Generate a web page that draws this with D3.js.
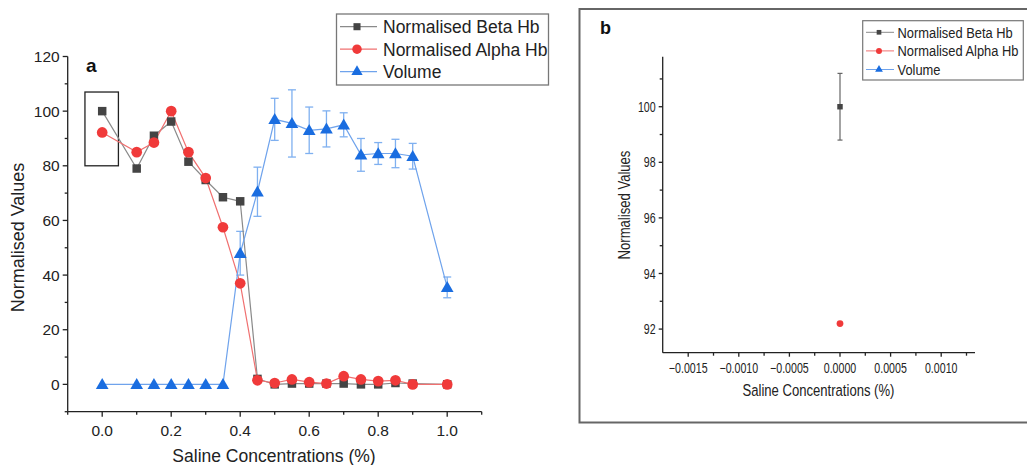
<!DOCTYPE html>
<html><head><meta charset="utf-8">
<script src="https://cdn.jsdelivr.net/npm/d3@7"></script>
<style>body{margin:0;background:#fff}svg{display:block}</style>
</head><body>
<svg id="c" width="1027" height="465"></svg>
<script>
const conc = [0, 0.1, 0.15, 0.2, 0.25, 0.3, 0.35, 0.4, 0.45, 0.5, 0.55, 0.6, 0.65, 0.7, 0.75, 0.8, 0.85, 0.9, 1.0];
const betaHb = [100, 79, 91, 96.2, 81.5, 74.8, 68.5, 67, 2, 0, 0.3, 0.3, 0.3, 0.3, 0, 0, 0.5, 0.3, 0];
const alphaHb = [92.2, 85, 88.5, 100, 85, 75.5, 57.5, 37, 1.5, 0.5, 1.8, 0.8, 0.3, 3, 1.8, 1.2, 1.5, 0, 0];
const volume = [0, 0, 0, 0, 0, 0, 0, 48, 70.5, 97, 95.5, 93, 93.5, 95, 84, 84.5, 84.5, 83.5, 35.5];
const volumeErr = [0, 0, 0, 0, 0, 0, 0, 8, 9, 7.7, 12.3, 8.5, 6.6, 4.4, 6, 4, 5.2, 4.7, 3.8];
const seriesNames = ["Normalised Beta Hb", "Normalised Alpha Hb", "Volume"];
const xTicksA = [0, 0.2, 0.4, 0.6, 0.8, 1.0];
const yTicksA = [0, 20, 40, 60, 80, 100, 120];
// panel b: zoom on x = 0
const concB = [0];
const betaB = [100];
const betaBErr = [1.2];
const alphaB = [92.2];
const xTicksB = [-0.0015, -0.0010, -0.0005, 0, 0.0005, 0.0010];
const yTicksB = [92, 94, 96, 98, 100];

const svg = d3.select("#c");
const FONT = "'Liberation Sans', Arial, sans-serif";
const cBeta = "#444444", cBetaL = "#8a8a8a";
const cAlpha = "#f03a3a", cAlphaL = "#f07070";
const cVol = "#1a6de0", cVolL = "#6fa3ec", cVolE = "#7fb0f0";

// text with optional horizontal condensation (sx) and rotation
function txt(g, x, y, s, opt) {
  const o = Object.assign({size: 15, anchor: "start", sx: 1, rot: 0, weight: "normal", dy: null}, opt);
  const t = g.append("text").attr("transform", `translate(${x},${y}) rotate(${o.rot}) scale(${o.sx},1)`)
    .attr("text-anchor", o.anchor).attr("font-family", FONT).attr("font-size", o.size)
    .attr("font-weight", o.weight).attr("fill", "#222").text(s);
  if (o.dy) t.attr("dy", o.dy);
  return t;
}

function drawAxes(g, x, y, xt, yt, xMinor, yMinor, fmtX, fmtY, fs, sx, tlen, mlen, xlabOff) {
  const [x0, x1] = x.range(), [y0, y1] = y.range();
  const ax = g.append("g").attr("stroke", "#222").attr("stroke-width", 1.3);
  ax.append("line").attr("x1", x0).attr("x2", x1).attr("y1", y0).attr("y2", y0);
  ax.append("line").attr("x1", x0).attr("x2", x0).attr("y1", y0).attr("y2", y1);
  xt.forEach(v => ax.append("line").attr("x1", x(v)).attr("x2", x(v)).attr("y1", y0).attr("y2", y0 + tlen));
  xMinor.forEach(v => ax.append("line").attr("x1", x(v)).attr("x2", x(v)).attr("y1", y0).attr("y2", y0 + mlen));
  yt.forEach(v => ax.append("line").attr("x1", x0).attr("x2", x0 - tlen).attr("y1", y(v)).attr("y2", y(v)));
  yMinor.forEach(v => ax.append("line").attr("x1", x0).attr("x2", x0 - mlen).attr("y1", y(v)).attr("y2", y(v)));
  xt.forEach(v => txt(g, x(v), y0 + xlabOff, fmtX(v), {size: fs, anchor: "middle", sx: sx}));
  yt.forEach(v => txt(g, x0 - tlen - 3, y(v), fmtY(v), {size: fs, anchor: "end", sx: sx, dy: "0.36em"}));
}

// ---------- Panel a ----------
const xA = d3.scaleLinear().domain([-0.1, 1.1]).range([67.7, 481.7]);
const yA = d3.scaleLinear().domain([-10, 120]).range([411.7, 56.5]);
const gA = svg.append("g");
drawAxes(gA, xA, yA, xTicksA, yTicksA,
  d3.range(-0.1, 1.11, 0.1).map(v => +v.toFixed(2)).filter(v => !xTicksA.includes(v)),
  [-10, 10, 30, 50, 70, 90, 110],
  d3.format(".1f"), d3.format("d"), 15.5, 1, 5, 3, 24);

txt(gA, 274, 462, "Saline Concentrations (%)", {size: 17.5, anchor: "middle"});
txt(gA, 24, 237.5, "Normalised Values", {size: 18, anchor: "middle", rot: -90});
txt(gA, 86, 71.5, "a", {size: 19, weight: "bold"}).attr("fill", "#111");

// highlight box
gA.append("rect").attr("x", xA(-0.05)).attr("y", yA(107)).attr("width", xA(0.047) - xA(-0.05))
  .attr("height", yA(80) - yA(107)).attr("fill", "none").attr("stroke", "#222").attr("stroke-width", 1.3);

const line = (xs, ys, data) => d3.line().x(i => xs(conc[i])).y(i => ys(data[i]))(d3.range(data.length));

// volume error bars
const eb = gA.append("g").attr("stroke", cVolE).attr("stroke-width", 1.3);
conc.forEach((c, i) => {
  if (volumeErr[i] > 0) {
    const xx = xA(c);
    eb.append("line").attr("x1", xx).attr("x2", xx).attr("y1", yA(volume[i] + volumeErr[i])).attr("y2", yA(volume[i] - volumeErr[i]));
    [volume[i] + volumeErr[i], volume[i] - volumeErr[i]].forEach(v =>
      eb.append("line").attr("x1", xx - 4).attr("x2", xx + 4).attr("y1", yA(v)).attr("y2", yA(v)));
  }
});

gA.append("path").attr("d", line(xA, yA, betaHb)).attr("fill", "none").attr("stroke", cBetaL).attr("stroke-width", 1.2);
gA.append("path").attr("d", line(xA, yA, alphaHb)).attr("fill", "none").attr("stroke", cAlphaL).attr("stroke-width", 1.2);
gA.append("path").attr("d", line(xA, yA, volume)).attr("fill", "none").attr("stroke", cVolL).attr("stroke-width", 1.2);

const sq = d3.symbol().type(d3.symbolSquare);
const ci = d3.symbol().type(d3.symbolCircle);
const tr = d3.symbol().type(d3.symbolTriangle);
conc.forEach((c, i) => {
  gA.append("path").attr("d", sq.size(72)()).attr("transform", `translate(${xA(c)},${yA(betaHb[i])})`).attr("fill", cBeta);
});
conc.forEach((c, i) => {
  gA.append("path").attr("d", ci.size(90)()).attr("transform", `translate(${xA(c)},${yA(alphaHb[i])})`).attr("fill", cAlpha);
});
conc.forEach((c, i) => {
  gA.append("path").attr("d", tr.size(70)()).attr("transform", `translate(${xA(c)},${yA(volume[i]) + 1})`).attr("fill", cVol);
});

// legend a
const legA = svg.append("g");
legA.append("rect").attr("x", 336.5).attr("y", 14).attr("width", 212).attr("height", 71)
  .attr("fill", "#fff").attr("stroke", "#777").attr("stroke-width", 1.3);
const legCols = [[cBeta, cBetaL, sq.size(50)], [cAlpha, cAlphaL, ci.size(70)], [cVol, cVolL, tr.size(55)]];
seriesNames.forEach((n, i) => {
  const yy = 26.7 + i * 22.5;
  legA.append("line").attr("x1", 340).attr("x2", 377).attr("y1", yy).attr("y2", yy).attr("stroke", legCols[i][1]).attr("stroke-width", 1.2);
  legA.append("path").attr("d", legCols[i][2]()).attr("transform", `translate(357,${yy})`).attr("fill", legCols[i][0]);
  txt(legA, 383, yy, n, {size: 17.5, dy: "0.36em"});
});

// ---------- Panel b ----------
svg.append("rect").attr("x", 579.5).attr("y", 9).attr("width", 460).attr("height", 413.5)
  .attr("fill", "none").attr("stroke", "#666").attr("stroke-width", 2);
const xB = d3.scaleLinear().domain([-0.001752, 0.001334]).range([662.7, 975]);
const yB = d3.scaleLinear().domain([91.15, 101.8]).range([352.7, 56.7]);
const gB = svg.append("g");
drawAxes(gB, xB, yB, xTicksB, yTicksB,
  [-0.00125, -0.00075, -0.00025, 0.00025, 0.00075, 0.00125],
  [93, 95, 97, 99, 101],
  d3.format(".4f"), d3.format("d"), 14, 0.76, 4, 3, 20);
txt(gB, 818.5, 396, "Saline Concentrations (%)", {size: 17, anchor: "middle", sx: 0.77});
txt(gB, 630, 205, "Normalised Values", {size: 17, anchor: "middle", sx: 0.77, rot: -90});
txt(gB, 600, 34, "b", {size: 18, weight: "bold"}).attr("fill", "#111");

const ebB = gB.append("g").attr("stroke", "#666").attr("stroke-width", 1.2);
concB.forEach((c, i) => {
  const xx = xB(c);
  ebB.append("line").attr("x1", xx).attr("x2", xx).attr("y1", yB(betaB[i] + betaBErr[i])).attr("y2", yB(betaB[i] - betaBErr[i]));
  [betaB[i] + betaBErr[i], betaB[i] - betaBErr[i]].forEach(v =>
    ebB.append("line").attr("x1", xx - 2.5).attr("x2", xx + 2.5).attr("y1", yB(v)).attr("y2", yB(v)));
  gB.append("path").attr("d", sq.size(30)()).attr("transform", `translate(${xx},${yB(betaB[i])})`).attr("fill", cBeta);
  gB.append("path").attr("d", ci.size(36)()).attr("transform", `translate(${xx},${yB(alphaB[i])})`).attr("fill", cAlpha);
});

const legB = svg.append("g");
legB.append("rect").attr("x", 862.7).attr("y", 20.7).attr("width", 160.6).attr("height", 59.3)
  .attr("fill", "#fff").attr("stroke", "#777").attr("stroke-width", 1.2);
const legColsB = [[cBeta, cBetaL, sq.size(22)], [cAlpha, cAlphaL, ci.size(28)], [cVol, cVolL, tr.size(26)]];
seriesNames.forEach((n, i) => {
  const yy = 32.3 + i * 18.6;
  legB.append("line").attr("x1", 866).attr("x2", 894).attr("y1", yy).attr("y2", yy).attr("stroke", legColsB[i][1]).attr("stroke-width", 1);
  legB.append("path").attr("d", legColsB[i][2]()).attr("transform", `translate(879,${yy})`).attr("fill", legColsB[i][0]);
  txt(legB, 897.5, yy, n, {size: 15, sx: 0.86, dy: "0.36em"});
});
</script>
</body></html>
